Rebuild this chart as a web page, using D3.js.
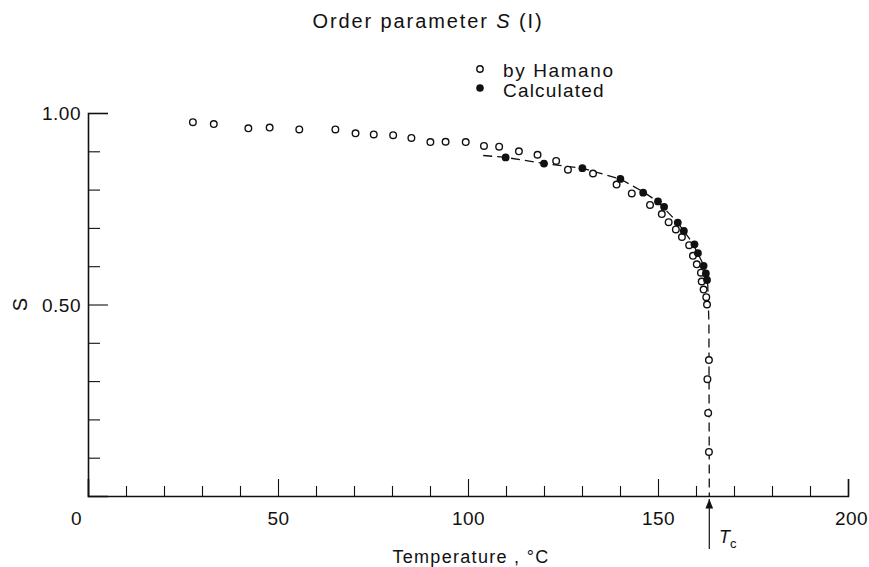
<!DOCTYPE html>
<html>
<head>
<meta charset="utf-8">
<script src="https://cdn.jsdelivr.net/npm/d3@7"></script>
<style>
  body { margin: 0; background: #fff; }
  text { font-family: "Liberation Sans", Arial, sans-serif; fill: #111; }
</style>
</head>
<body>
<div id="chart"></div>
<script>
// data: temperature (deg C) and order parameter S
const hamanoT = [27.6, 33.1, 42.2, 47.8, 55.6, 65.1, 70.4, 75.2, 80.3, 85.1, 90.1, 94.1, 99.4,
  104.2, 108.2, 113.4, 118.3, 123.2, 126.3, 132.9, 139.1, 143.1, 147.9, 151.0, 152.8, 154.7,
  156.3, 158.2, 159.2, 160.2, 161.3, 161.5, 162.0, 162.7, 162.9, 163.4, 163.0, 163.2, 163.4];
const hamanoS = [0.976, 0.971, 0.960, 0.962, 0.957, 0.957, 0.947, 0.944, 0.942, 0.935, 0.924, 0.925, 0.924,
  0.914, 0.912, 0.900, 0.891, 0.875, 0.852, 0.842, 0.813, 0.790, 0.760, 0.736, 0.715, 0.696,
  0.676, 0.655, 0.627, 0.605, 0.583, 0.560, 0.539, 0.519, 0.500, 0.355, 0.305, 0.217, 0.115];

const calcT = [109.9, 120.0, 130.1, 140.1, 146.1, 150.0, 151.6, 155.2, 156.8, 159.6, 160.5, 162.0, 162.6, 162.9];
const calcS = [0.884, 0.868, 0.856, 0.828, 0.792, 0.769, 0.755, 0.714, 0.692, 0.657, 0.634, 0.601, 0.581, 0.564];

// dashed guide curve
const curveT = [104, 110, 120, 130, 140, 146, 150, 155, 159, 162, 163.1, 163.4, 163.5];
const curveS = [0.889, 0.884, 0.868, 0.856, 0.828, 0.795, 0.768, 0.716, 0.662, 0.603, 0.55, 0.45, 0];

const Tc = 163.5;
const xMajor = [0, 50, 100, 150, 200];
const xMinor = d3.range(10, 200, 10).filter(d => d % 50 !== 0);
const yMajor = [0.5, 1.0];
const yMinor = [0.1, 0.2, 0.3, 0.4, 0.6, 0.7, 0.8, 0.9];

const width = 869, height = 567;
const x = d3.scaleLinear().domain([0, 200]).range([88, 848]);
const y = d3.scaleLinear().domain([0, 1]).range([496, 113]);

const svg = d3.select('#chart').append('svg')
  .attr('width', width).attr('height', height);

// y axis
const yAx = svg.append('g').attr('transform', `translate(${x(0)},0)`)
  .call(d3.axisLeft(y).tickValues(yMajor).tickSize(-20).tickFormat(d3.format('.2f')));
svg.append('g').attr('transform', `translate(${x(0)},0)`)
  .call(d3.axisLeft(y).tickValues(yMinor).tickSize(-12).tickFormat(''))
  .select('.domain').remove();

// x axis
const xAx = svg.append('g').attr('transform', `translate(0,${y(0)})`)
  .call(d3.axisBottom(x).tickValues(xMajor).tickSize(-17).tickFormat(d3.format('d')));
svg.append('g').attr('transform', `translate(0,${y(0)})`)
  .call(d3.axisBottom(x).tickValues(xMinor).tickSize(-10).tickFormat(''))
  .select('.domain').remove();

svg.selectAll('.domain').attr('stroke', '#111').attr('stroke-width', 1.6);
svg.selectAll('.tick line').attr('stroke', '#111').attr('stroke-width', 1.1);
yAx.selectAll('.tick text').attr('font-size', 19).attr('x', -7).attr('dy', '0.35em')
  .attr('letter-spacing', 0.5);
xAx.selectAll('.tick text').attr('font-size', 19).attr('y', 16).attr('dy', '0.71em')
  .attr('letter-spacing', 0.5)
  .attr('dx', d => d === 0 ? -12 : (d === 200 ? 3 : 0));
svg.selectAll('.tick text').style('font-family', '"Liberation Sans", Arial, sans-serif').attr('fill', '#111');

// axis titles
svg.append('text').attr('transform', `translate(20,${y(0.5)}) rotate(-90)`)
  .attr('text-anchor', 'middle').attr('dy', '0.35em').attr('font-size', 20).text('S');
svg.append('text').attr('x', 471).attr('y', 563).attr('text-anchor', 'middle')
  .attr('font-size', 18).attr('letter-spacing', 1.3).text('Temperature , °C');

// title
const title = svg.append('text').attr('x', 428).attr('y', 28).attr('text-anchor', 'middle')
  .attr('font-size', 20).attr('letter-spacing', 1.9);
title.append('tspan').text('Order  parameter  ');
title.append('tspan').attr('font-style', 'italic').text('S');
title.append('tspan').text(' (I)');

// legend
svg.append('circle').attr('cx', 480).attr('cy', 69).attr('r', 3.2)
  .attr('fill', '#fff').attr('stroke', '#111').attr('stroke-width', 1.4);
svg.append('text').attr('x', 503).attr('y', 77).attr('font-size', 19)
  .attr('letter-spacing', 1.6).text('by Hamano');
svg.append('circle').attr('cx', 480).attr('cy', 88).attr('r', 3.8).attr('fill', '#111');
svg.append('text').attr('x', 503).attr('y', 97).attr('font-size', 19)
  .attr('letter-spacing', 1.2).text('Calculated');

// dashed curve
const line = d3.line().x(d => x(d[0])).y(d => y(d[1]));
svg.append('path').datum(d3.zip(curveT, curveS))
  .attr('d', line).attr('fill', 'none').attr('stroke', '#111')
  .attr('stroke-width', 1.3).attr('stroke-dasharray', '9,5');

// points
svg.append('g').selectAll('circle').data(d3.zip(hamanoT, hamanoS)).join('circle')
  .attr('cx', d => x(d[0])).attr('cy', d => y(d[1])).attr('r', 3.3)
  .attr('fill', '#fff').attr('stroke', '#111').attr('stroke-width', 1.4);
svg.append('g').selectAll('circle').data(d3.zip(calcT, calcS)).join('circle')
  .attr('cx', d => x(d[0])).attr('cy', d => y(d[1])).attr('r', 3.9)
  .attr('fill', '#111');

// Tc arrow
svg.append('defs').append('marker').attr('id', 'ah')
  .attr('viewBox', '0 0 10 10').attr('refX', 10).attr('refY', 5)
  .attr('markerWidth', 8).attr('markerHeight', 8).attr('orient', 'auto')
  .append('path').attr('d', 'M0,1 L10,5 L0,9 Z').attr('fill', '#111');
svg.append('line').attr('x1', x(Tc)).attr('x2', x(Tc)).attr('y1', 549).attr('y2', y(0) + 3)
  .attr('stroke', '#111').attr('stroke-width', 1.2).attr('marker-end', 'url(#ah)');
const tc = svg.append('text').attr('x', 719).attr('y', 543).attr('font-size', 18);
tc.append('tspan').attr('font-style', 'italic').text('T');
tc.append('tspan').attr('font-size', 13).attr('dy', 5).text('c');
</script>
</body>
</html>
